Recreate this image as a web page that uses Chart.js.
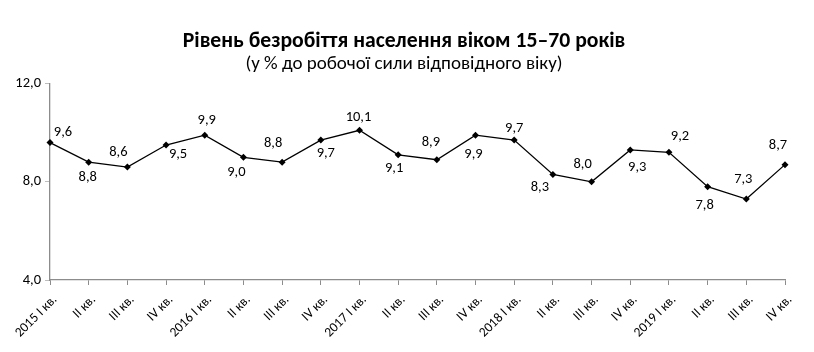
<!DOCTYPE html>
<html>
<head>
<meta charset="utf-8">
<script src="https://cdn.jsdelivr.net/npm/chart.js@4"></script>
<style>
  html, body { margin: 0; padding: 0; background: #fff; }
  #wrap { width: 814px; height: 352px; }
</style>
</head>
<body>
<div id="wrap"><canvas id="unempChart"></canvas></div>
<script>
// квартали 2015-2019
var quarters = [
    "2015 I кв.", "II кв.", "III кв.", "IV кв.",
    "2016 I кв.", "II кв.", "III кв.", "IV кв.",
    "2017 I кв.", "II кв.", "III кв.", "IV кв.",
    "2018 I кв.", "II кв.", "III кв.", "IV кв.",
    "2019 I кв.", "II кв.", "III кв.", "IV кв."
];
var unemploymentRate = [
    9.6, 8.8, 8.6, 9.5,
    9.9, 9.0, 8.8, 9.7,
    10.1, 9.1, 8.9, 9.9,
    9.7, 8.3, 8.0, 9.3,
    9.2, 7.8, 7.3, 8.7
];
var yTicks = [4, 8, 12];

var fontFamily = "Carlito, 'Noto Sans', sans-serif";

// where each data label sits relative to its point (dx, dy)
var labelOffsets = [
    [13, -10], [-1, 15], [-9, -15], [12, 9],
    [2, -15], [-7, 15], [-9, -19], [5, 13],
    [-1, -13], [-4, 14], [-6, -17], [-2, 19],
    [0, -12], [-13, 13], [-9, -17], [7, 17],
    [11, -16], [-3, 19], [-3, -20], [-7, -19]
];

function fmt(v) {
    return v.toFixed(1).replace('.', ',');
}

var pointLabels = {
    id: 'pointLabels',
    afterDatasetsDraw: function (chart) {
        var ctx = chart.ctx;
        var meta = chart.getDatasetMeta(0);
        ctx.save();
        ctx.font = "14.5px " + fontFamily;
        ctx.fillStyle = '#000';
        ctx.textAlign = 'center';
        ctx.textBaseline = 'middle';
        meta.data.forEach(function (pt, i) {
            var off = labelOffsets[i];
            ctx.fillText(fmt(unemploymentRate[i]), pt.x + off[0], pt.y + off[1]);
        });
        ctx.restore();
    }
};

new Chart("unempChart", {
    type: "line",
    data: {
        labels: quarters,
        datasets: [{
            data: unemploymentRate,
            borderColor: '#000',
            borderWidth: 1.3,
            backgroundColor: '#000',
            pointStyle: 'rectRot',
            pointRadius: 3.5,
            pointBorderWidth: 0,
            tension: 0
        }]
    },
    options: {
        responsive: true,
        maintainAspectRatio: false,
        animation: false,
        layout: { padding: { left: 0, right: 6, top: 0, bottom: 0 } },
        plugins: {
            legend: { display: false },
            tooltip: { enabled: false },
            title: {
                display: true,
                text: "Рівень безробіття населення віком 15–70 років",
                color: '#000',
                font: { family: fontFamily, size: 21.7, weight: 'bold' },
                padding: { top: 29, bottom: 0 }
            },
            subtitle: {
                display: true,
                text: "(у % до робочої сили відповідного віку)",
                color: '#000',
                font: { family: fontFamily, size: 19, lineHeight: 1 },
                padding: { top: 0, bottom: 9.6 }
            }
        },
        scales: {
            x: {
                grid: {
                    display: true,
                    drawOnChartArea: false,
                    drawTicks: true,
                    tickLength: 5,
                    color: '#8c8c8c'
                },
                border: { color: '#8c8c8c', width: 1.3 },
                ticks: {
                    color: '#000',
                    font: { family: fontFamily, size: 13.5 },
                    minRotation: 45,
                    maxRotation: 45,
                    autoSkip: false,
                    padding: 7,
                    labelOffset: 5
                },
                afterFit: function (s) { s.height = 72; }
            },
            y: {
                min: 4,
                max: 12,
                afterBuildTicks: function (s) {
                    s.ticks = yTicks.map(function (v) { return { value: v }; });
                },
                grid: {
                    display: true,
                    drawOnChartArea: false,
                    tickLength: 5,
                    color: '#bdbdbd'
                },
                border: { color: '#8c8c8c', width: 1.3 },
                ticks: {
                    color: '#000',
                    font: { family: fontFamily, size: 14.5 },
                    padding: 4,
                    callback: function (v) { return fmt(v); }
                },
                afterFit: function (s) { s.width = 50; }
            },
            // empty right axis, only keeps the plot clear of the right edge
            yRight: {
                position: 'right',
                min: 4,
                max: 12,
                grid: { display: false },
                border: { display: false },
                ticks: { display: false },
                afterFit: function (s) { s.width = 23; }
            }
        }
    },
    plugins: [pointLabels]
});
</script>
</body>
</html>
